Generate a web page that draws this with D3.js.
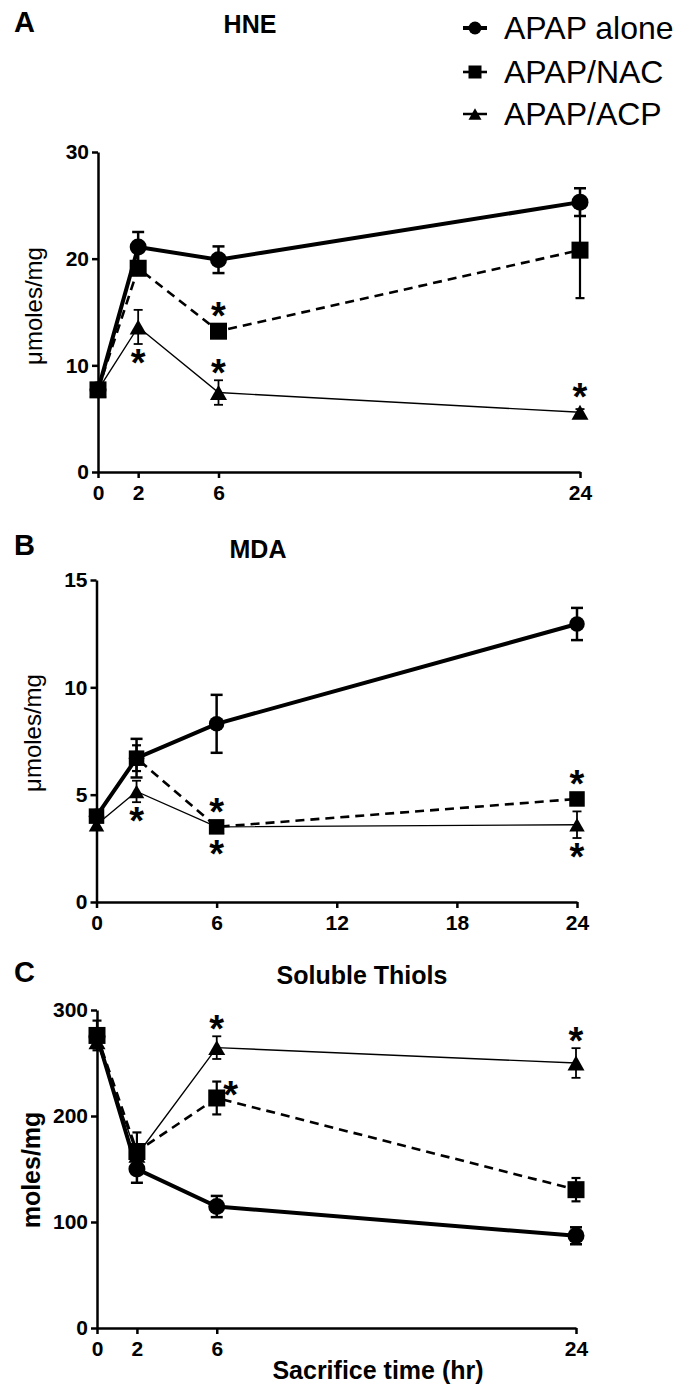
<!DOCTYPE html>
<html>
<head>
<meta charset="utf-8">
<script src="https://cdn.jsdelivr.net/npm/d3@7"></script>
<style>
  body { margin: 0; background: #fff; }
  text { font-family: Arial, "Liberation Sans", sans-serif; fill: #000; }
</style>
</head>
<body>
<script>
// sacrifice times (hr)
const times = [0, 2, 6, 24];
const seriesNames = ["APAP alone", "APAP/NAC", "APAP/ACP"];

// A: HNE (umoles/mg), mean and error
const hneAlone = [7.7, 21.1, 19.9, 25.3];
const hneAloneErr = [0, 1.4, 1.25, 1.3];
const hneNac = [7.7, 19.1, 13.2, 20.8];
const hneNacErr = [0, 0.5, 0.5, 4.5];
const hneAcp = [7.7, 13.6, 7.45, 5.6];
const hneAcpErr = [0, 1.6, 1.15, 0.3];
const hneStars = [["APAP/ACP", 2, "below"], ["APAP/NAC", 6, "above"], ["APAP/ACP", 6, "above"], ["APAP/ACP", 24, "above"]];

// B: MDA (umoles/mg)
const mdaAlone = [4.0, 6.7, 8.3, 12.95];
const mdaAloneErr = [0, 0.9, 1.35, 0.75];
const mdaNac = [4.0, 6.7, 3.5, 4.8];
const mdaNacErr = [0, 0.6, 0, 0];
const mdaAcp = [3.6, 5.15, 3.5, 3.6];
const mdaAcpErr = [0, 0.5, 0, 0.62];
const mdaStars = [["APAP/ACP", 2, "below"], ["APAP/NAC", 6, "above"], ["APAP/ACP", 6, "below"], ["APAP/NAC", 24, "above"], ["APAP/ACP", 24, "below"]];

// C: soluble thiols (moles/mg)
const thiolAlone = [275, 150, 114.6, 87];
const thiolAloneErr = [0, 13, 10, 8];
const thiolNac = [276, 166.5, 217, 130.5];
const thiolNacErr = [14, 18, 15.5, 11];
const thiolAcp = [270, 163, 264.5, 250];
const thiolAcpErr = [0, 0, 10.7, 14];
const thiolStars = [["APAP/ACP", 6, "above"], ["APAP/NAC", 6, "right"], ["APAP/ACP", 24, "above"]];

const W = 692, H = 1394;
const svg = d3.select("body").append("svg").attr("width", W).attr("height", H);
svg.append("rect").attr("width", W).attr("height", H).attr("fill", "#fff");

// line style per series
const styles = {
  "APAP alone": {width: 4, dash: null, errW: 2.5, cap: 12},
  "APAP/NAC": {width: 2.6, dash: "9,6", errW: 2.2, cap: 9},
  "APAP/ACP": {width: 1.4, dash: null, errW: 1.8, cap: 9}
};

const panels = [
  {letter: "A", letterY: 32, title: "HNE", titleX: 250, titleY: 33, yLabel: "\u03bcmoles/mg", yBold: false, labelX: 42, labelY: 306,
   yDomain: [0, 30], yTicks: [0, 10, 20, 30], xTicks: [0, 2, 6, 24], xr: [98, 580], yr: [472, 152], ms: 17,
   series: {"APAP alone": [hneAlone, hneAloneErr], "APAP/NAC": [hneNac, hneNacErr], "APAP/ACP": [hneAcp, hneAcpErr]}, stars: hneStars},
  {letter: "B", letterY: 555, title: "MDA", titleX: 258, titleY: 558, yLabel: "\u03bcmoles/mg", yBold: false, labelX: 41, labelY: 733,
   yDomain: [0, 15], yTicks: [0, 5, 10, 15], xTicks: [0, 6, 12, 18, 24], xr: [96.5, 577], yr: [902, 580], ms: 15.5,
   series: {"APAP alone": [mdaAlone, mdaAloneErr], "APAP/NAC": [mdaNac, mdaNacErr], "APAP/ACP": [mdaAcp, mdaAcpErr]}, stars: mdaStars},
  {letter: "C", letterY: 982, title: "Soluble Thiols", titleX: 362, titleY: 984, yLabel: "moles/mg", yBold: true, labelX: 40, labelY: 1170,
   yDomain: [0, 300], yTicks: [0, 100, 200, 300], xTicks: [0, 2, 6, 24], xr: [97, 576], yr: [1328, 1010], ms: 17,
   series: {"APAP alone": [thiolAlone, thiolAloneErr], "APAP/NAC": [thiolNac, thiolNacErr], "APAP/ACP": [thiolAcp, thiolAcpErr]}, stars: thiolStars}
];

function drawMarker(g, name, cx, cy, s) {
  if (name === "APAP alone") {
    g.append("circle").attr("cx", cx).attr("cy", cy).attr("r", s / 2).attr("fill", "#000");
  } else if (name === "APAP/NAC") {
    g.append("rect").attr("x", cx - s / 2).attr("y", cy - s / 2).attr("width", s).attr("height", s).attr("fill", "#000");
  } else {
    const w = s, h = s * 0.88;
    g.append("path").attr("d", `M${cx},${cy - h / 2}L${cx - w / 2},${cy + h / 2}L${cx + w / 2},${cy + h / 2}Z`).attr("fill", "#000");
  }
}

panels.forEach(p => {
  const x = d3.scaleLinear().domain([0, 24]).range(p.xr);
  const y = d3.scaleLinear().domain(p.yDomain).range(p.yr);
  const g = svg.append("g");

  // panel letter and title
  g.append("text").attr("x", 14).attr("y", p.letterY).attr("font-size", 29).attr("font-weight", "bold").text(p.letter);
  g.append("text").attr("x", p.titleX).attr("y", p.titleY).attr("text-anchor", "middle")
    .attr("font-size", 25).attr("font-weight", "bold").text(p.title);

  // y axis label
  g.append("text").attr("transform", `translate(${p.labelX},${p.labelY}) rotate(-90)`)
    .attr("text-anchor", "middle").attr("font-size", p.yBold ? 25 : 24)
    .attr("font-weight", p.yBold ? "bold" : "normal").text(p.yLabel);

  // axes
  const yAxis = g.append("g").attr("transform", `translate(${p.xr[0]},0)`)
    .call(d3.axisLeft(y).tickValues(p.yTicks).tickSize(6).tickSizeOuter(0).tickPadding(3));
  const xAxis = g.append("g").attr("transform", `translate(0,${p.yr[0]})`)
    .call(d3.axisBottom(x).tickValues(p.xTicks).tickSize(6).tickSizeOuter(0).tickPadding(7));
  [yAxis, xAxis].forEach(a => {
    a.select(".domain").attr("stroke", "#000").attr("stroke-width", 2.5);
    a.selectAll(".tick line").attr("stroke", "#000").attr("stroke-width", 2.5);
    a.selectAll(".tick text").attr("font-size", 21).attr("font-weight", "bold")
      .attr("font-family", "Arial, 'Liberation Sans', sans-serif").attr("fill", "#000");
  });

  const order = ["APAP alone", "APAP/ACP", "APAP/NAC"];

  // connecting lines
  order.forEach(name => {
    const [vals] = p.series[name];
    const st = styles[name];
    const line = d3.line().x((d, i) => x(times[i])).y(d => y(d));
    g.append("path").datum(vals).attr("d", line).attr("fill", "none").attr("stroke", "#000")
      .attr("stroke-width", st.width).attr("stroke-dasharray", st.dash);
  });

  // error bars
  order.forEach(name => {
    const [vals, errs] = p.series[name];
    const st = styles[name];
    vals.forEach((v, i) => {
      if (!errs[i]) return;
      const cx = x(times[i]);
      const y1 = y(v + errs[i]), y2 = y(v - errs[i]);
      g.append("line").attr("x1", cx).attr("x2", cx).attr("y1", y1).attr("y2", y2)
        .attr("stroke", "#000").attr("stroke-width", st.errW);
      [y1, y2].forEach(yy => g.append("line").attr("x1", cx - st.cap / 2).attr("x2", cx + st.cap / 2)
        .attr("y1", yy).attr("y2", yy).attr("stroke", "#000").attr("stroke-width", st.errW));
    });
  });

  // markers
  order.forEach(name => {
    const [vals] = p.series[name];
    vals.forEach((v, i) => drawMarker(g, name, x(times[i]), y(v), p.ms));
  });

  // significance stars
  p.stars.forEach(([name, t, pos]) => {
    const [vals, errs] = p.series[name];
    const i = times.indexOf(t);
    const cx = x(t);
    const top = Math.min(y(vals[i] + errs[i]), y(vals[i]) - p.ms / 2);
    const bot = Math.max(y(vals[i] - errs[i]), y(vals[i]) + p.ms / 2);
    let sx = cx, sy;
    if (pos === "above") sy = top - 13;
    else if (pos === "below") sy = bot + 13;
    else { sx = cx + 14; sy = y(vals[i]) - 9; }
    g.append("text").attr("x", sx).attr("y", sy + 19).attr("text-anchor", "middle")
      .attr("font-size", 38).attr("font-weight", "bold").text("*");
  });
});

// legend
const legendY = [28, 72, 114];
const legend = svg.append("g");
seriesNames.forEach((name, i) => {
  const st = styles[name];
  legend.append("line").attr("x1", 463).attr("x2", 487).attr("y1", legendY[i]).attr("y2", legendY[i])
    .attr("stroke", "#000").attr("stroke-width", Math.max(st.width, 2.5));
  drawMarker(legend, name, 475, legendY[i], 13);
  legend.append("text").attr("x", 504).attr("y", legendY[i] + 11).attr("font-size", 32).text(name);
});

// shared x axis title
svg.append("text").attr("x", 378).attr("y", 1379).attr("text-anchor", "middle")
  .attr("font-size", 25).attr("font-weight", "bold").text("Sacrifice time (hr)");
</script>
</body>
</html>
